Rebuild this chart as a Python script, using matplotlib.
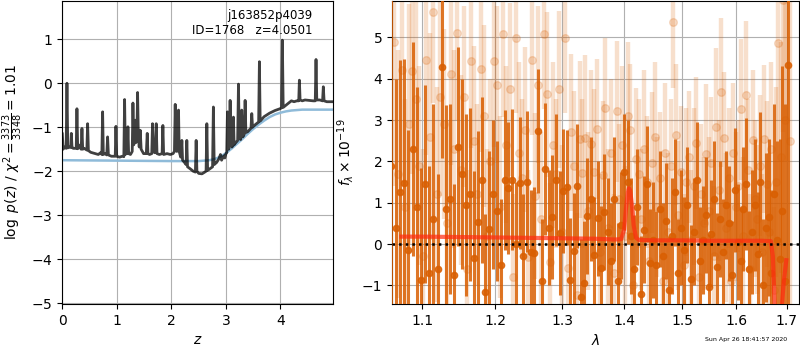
import numpy as np
import matplotlib
matplotlib.use("Agg")
import matplotlib.pyplot as plt
from matplotlib.ticker import NullLocator, NullFormatter

# redshift fit: log p(z) curve and smooth prior
pz_z = [0.00, 0.015, 0.04, 0.07, 0.085, 0.10, 0.13, 0.155, 0.165, 0.178, 0.20, 0.255, 0.268, 0.282,
        0.30, 0.345, 0.36, 0.374, 0.40, 0.45, 0.464, 0.478, 0.52, 0.60, 0.66, 0.70, 0.725, 0.739,
        0.752, 0.78, 0.815, 0.83, 0.845, 0.90, 0.97, 0.983, 0.997, 1.05, 1.10, 1.128, 1.142, 1.156,
        1.175, 1.19, 1.203, 1.216, 1.25, 1.282, 1.295, 1.31, 1.325, 1.337, 1.35, 1.367, 1.38, 1.394,
        1.41, 1.429, 1.445, 1.49, 1.54, 1.557, 1.57, 1.60, 1.64, 1.654, 1.668, 1.695, 1.708, 1.722,
        1.736, 1.78, 1.83, 1.844, 1.858, 1.92, 1.98, 2.03, 2.056, 2.07, 2.084, 2.10, 2.12, 2.131,
        2.143, 2.17, 2.18, 2.192, 2.205, 2.24, 2.27, 2.283, 2.296, 2.35, 2.40, 2.44, 2.454, 2.468,
        2.50, 2.56, 2.60, 2.636, 2.65, 2.664, 2.70, 2.755, 2.77, 2.785, 2.83, 2.87, 2.90, 2.92,
        2.96, 2.98, 3.00, 3.015, 3.028, 3.04, 3.052, 3.065, 3.077, 3.09, 3.11, 3.126, 3.138, 3.15,
        3.18, 3.215, 3.23, 3.245, 3.27, 3.29, 3.31, 3.338, 3.352, 3.366, 3.40, 3.46, 3.474, 3.488,
        3.54, 3.60, 3.614, 3.628, 3.70, 3.80, 3.90, 3.99, 4.02, 4.035, 4.05, 4.10, 4.15, 4.20,
        4.25, 4.30, 4.335, 4.347, 4.36, 4.40, 4.45, 4.52, 4.60, 4.638, 4.652, 4.666, 4.72, 4.772,
        4.786, 4.80, 4.85, 4.95]
pz_logp = [-1.15, -1.50, -1.45, -1.48, 0.00, -1.47, -1.45, -1.46, -1.14, -1.46, -1.48, -1.48, -0.58, -1.49,
           -1.40, -1.50, -1.03, -1.50, -1.48, -1.52, -0.92, -1.53, -1.57, -1.60, -1.62, -1.58, -1.62, -0.65,
           -1.62, -1.60, -1.63, -1.22, -1.63, -1.66, -1.66, -0.98, -1.66, -1.68, -1.66, -1.67, -0.37, -1.62,
           -1.50, -1.60, -0.99, -1.60, -1.62, -1.55, -0.45, -1.40, -1.30, -0.84, -1.35, -1.20, -0.21, -1.20,
           -1.45, -1.07, -1.50, -1.60, -1.60, -1.14, -1.60, -1.62, -1.60, -0.92, -1.55, -1.58, -1.40, -0.92,
           -1.60, -1.62, -1.60, -0.96, -1.62, -1.60, -1.62, -1.60, -1.55, -0.48, -1.50, -1.55, -1.45, -0.61,
           -1.55, -1.68, -1.60, -1.30, -1.75, -1.80, -1.85, -1.30, -1.90, -1.95, -2.00, -2.02, -1.30, -2.00,
           -2.05, -2.06, -2.03, -2.00, -0.92, -1.98, -1.95, -1.90, -0.54, -1.85, -1.80, -1.72, -1.62, -1.75,
           -1.65, -1.70, -1.60, -1.58, -0.65, -1.40, -1.50, -1.40, -0.39, -1.40, -1.45, -1.42, -0.77, -1.40,
           -1.35, -1.30, -0.02, -1.25, -1.28, -0.61, -1.22, -1.15, -0.39, -1.12, -1.10, -1.02, -0.69, -1.00,
           -0.94, -0.88, 0.49, -0.86, -0.76, -0.68, -0.62, -0.58, -0.56, 0.98, -0.55, -0.50, -0.45, -0.40,
           -0.42, -0.40, -0.40, 0.07, -0.38, -0.40, -0.38, -0.39, -0.40, -0.40, 0.54, -0.38, -0.38, -0.40,
           -0.08, -0.40, -0.42, -0.42]

prior_z = [0.0, 1.0, 2.0, 2.5, 2.7, 2.8, 2.9, 3.0, 3.1, 3.2, 3.3, 3.4, 3.5, 3.6, 3.7, 3.8,
           3.9, 4.0, 4.1, 4.2, 4.4, 4.6, 4.95]
prior_logp = [-1.75, -1.76, -1.77, -1.77, -1.75, -1.72, -1.67, -1.59, -1.49, -1.38, -1.27, -1.15,
              -1.04, -0.94, -0.85, -0.77, -0.71, -0.67, -0.64, -0.62, -0.60, -0.60, -0.60]

# 1D spectrum (flux in units of 1e-19), combined
flux_a = [1.9, 0.4, 1.25, 1.48, -0.15, 2.3, 0.9, -0.87, 1.45, -0.71, 0.6, -0.6, 4.29, 0.86, 1.1, -0.75,
          2.36, 1.69, 0.95, 1.2, -0.33, 0.54, 1.55, -1.17,
          0.36, 1.2, 0.8, -0.5, 1.55, 1.36, 1.56, 0.0, 1.47, -0.3, 1.51, -0.2, -0.22, 2.74, -0.9, 1.82,
          0.4, 0.66, 1.55, 0.26, 1.29, 1.37, -0.86, -0.16,
          1.4, -1.28, -0.95, 0.68, 1.09, -0.27, 0.62, -0.57, 0.77, 0.3, -0.4, 1.1, -0.9, 0.45, 1.75, 1.5,
          0.2, -0.6, 0.9, -1.2, 0.35, 1.45, -0.45, 0.1,
          -0.5, 0.85, -0.3, 0.55, -1.1, 0.2, 1.25, -0.7, 0.4, -0.15, 0.95, -0.85, 0.3, 1.55, -0.4, 0.1,
          0.7, -1.05, 0.25, 1.1, -0.55, 0.6, -0.2, 0.95,
          0.5, -0.75, 1.3, 0.05, -0.4, 0.85, 1.45, -0.6, 0.3, 0.95, -0.25, 1.5, -1.0, 0.4, 0.65, -0.7,
          1.2, 0.1, -0.35, 0.8, -0.9, 4.33]
err_a = [6.0, 3.6, 3.2, 3.0, 2.9, 2.6, 2.9, 2.7, 2.4, 2.6, 2.8, 2.3, 2.2, 2.5, 2.3, 2.2,
         2.4, 2.3, 2.2, 2.1, 2.1, 2.2, 2.0, 1.9,
         1.9, 1.8, 1.7, 1.6, 1.7, 1.6, 1.7, 1.5, 1.6, 1.5, 1.7, 1.5, 1.6, 1.5, 1.5, 1.6,
         1.4, 1.5, 1.6, 1.5, 1.5, 1.4, 1.5, 1.4,
         1.5, 1.4, 1.5, 1.4, 1.5, 1.4, 1.4, 1.5, 1.4, 1.3, 1.4, 1.5, 1.4, 1.3, 1.4, 1.5,
         1.4, 1.3, 1.4, 1.4, 1.3, 1.4, 1.3, 1.4,
         1.3, 1.4, 1.3, 1.4, 1.3, 1.4, 1.3, 1.3, 1.4, 1.3, 1.4, 1.3, 1.3, 1.4, 1.3, 1.3,
         1.4, 1.3, 1.3, 1.4, 1.3, 1.4, 1.3, 1.3,
         1.4, 1.3, 1.5, 1.4, 1.3, 1.5, 1.6, 1.4, 1.5, 1.6, 1.5, 1.7, 1.6, 1.8, 1.9, 2.0,
         2.2, 2.4, 2.9, 3.5, 4.3, 6.0]
lam_a = np.linspace(1.060, 1.702, len(flux_a))

# individual beams
flux_b = [4.9, 1.7, 4.2, 0.9, 2.9, 4.19, 3.5, 1.9, -0.3, 4.45, 2.6, 5.61, 1.2, 3.57, 2.9, 0.5,
          4.12, 2.3, 5.1, 1.8, 3.57, -0.6, 4.43, 2.5, 1.2, 4.23, 3.1, 0.2,
          2.0, 4.44, 3.86, 0.9, 5.07, 2.4, 3.74, -0.8, 4.98, 2.2, 1.6, 2.77, -0.32, 4.45, 1.16, 3.86,
          0.6, 5.07, 3.62, -0.43, 2.4, 1.7, 3.74, 0.3, 4.98, -0.59, 2.7, 1.9, -1.24, 2.53, 1.71, 2.57,
          0.8, 2.41, 1.75, 2.78, -0.2, 1.67, 3.28, 0.4,
          2.2, -0.7, 3.21, 1.1, 2.4, 0.2, 3.1, 2.75, -1.0, 2.07, 1.7, 0.6, 2.3, 1.5, -0.4, 1.97,
          2.6, 0.9, 1.6, -0.9, 2.2, 0.3, 1.9, 5.37, 2.65, 0.7, 1.75, -0.5, 1.5, 2.1, 0.1, 1.4,
          2.45, -0.8, 1.2, 0.5,
          2.17, 0.8, 1.95, -0.3, 2.84, 1.3, 3.67, 2.57, 0.4, 1.6, -0.9, 2.2, 0.9, 1.4, 3.26, 0.2,
          3.6, 1.8, -0.6, 2.52, 1.1, 0.6, 1.9, -0.2, 2.54, 1.45, 0.3, 2.3, -1.1, 1.5, 4.86, 2.1,
          5.9, 3.0, 6.5, 2.5]
err_b = [3.5, 3.0, 2.8, 2.6, 2.9, 2.5, 2.7, 2.4, 2.6, 2.3, 2.5, 2.2, 2.6, 2.4, 2.3, 2.5,
         2.2, 2.4, 2.1, 2.3, 2.2, 2.4, 2.1, 2.3, 2.2, 2.0, 2.2, 2.1,
         2.0, 2.1, 1.9, 2.2, 2.0, 1.9, 2.1, 2.0, 1.8, 2.2, 1.9, 2.0, 2.1, 1.8, 2.0, 1.9,
         2.1, 1.8, 2.0, 1.9, 2.0, 1.8, 1.9, 2.1, 1.8, 2.0, 1.9, 1.8, 2.0, 1.9, 1.8, 2.0,
         1.9, 1.8, 2.0, 1.7, 1.9, 1.8, 1.7, 1.9,
         1.8, 1.9, 1.7, 1.8, 1.9, 1.7, 1.8, 1.6, 1.9, 1.7, 1.8, 1.7, 1.9, 1.6, 1.8, 1.7,
         1.8, 1.7, 1.6, 1.8, 1.7, 1.9, 1.6, 1.6, 1.7, 1.8, 1.6, 1.7, 1.8, 1.6, 1.7, 1.9,
         1.6, 1.8, 1.7, 1.6,
         1.7, 1.8, 1.6, 1.7, 1.9, 1.7, 1.8, 1.6, 1.8, 1.7, 1.9, 1.7, 1.8, 1.6, 1.7, 1.9,
         1.8, 1.7, 1.8, 1.7, 1.9, 1.8, 1.7, 1.9, 1.8, 2.0, 1.9, 2.1, 2.0, 2.3, 2.4, 2.8,
         3.2, 3.8, 4.5, 5.5]
lam_b = np.linspace(1.064, 1.706, len(flux_b))

# best-fit model at z=4.05
model_lam = [1.073, 1.10, 1.15, 1.20, 1.25, 1.30, 1.35, 1.385, 1.395, 1.400, 1.403, 1.406, 1.408,
             1.410, 1.413, 1.416, 1.420, 1.425, 1.45, 1.50, 1.55, 1.60, 1.65, 1.668, 1.672, 1.676,
             1.680, 1.685, 1.690, 1.694, 1.699]
model_flux = [0.18, 0.18, 0.17, 0.16, 0.15, 0.14, 0.13, 0.11, 0.12, 0.35, 0.85, 1.25, 1.35,
              1.30, 0.95, 0.45, 0.15, 0.10, 0.09, 0.09, 0.08, 0.08, 0.08, 0.07, -0.30, -1.60,
              -2.50, -2.50, -1.50, -0.90, -0.39]

root = 'j163852p4039'
obj_id = 1768
z_best = 4.0501
chi2_num, chi2_den = 3373, 3348
stamp = 'Sun Apr 26 18:41:57 2020'

orange = '#d95f02'

fig = plt.figure(figsize=(8, 3.5), dpi=100)
ax1 = fig.add_axes([0.0779, 0.1314, 0.3388, 0.8657])
ax2 = fig.add_axes([0.49, 0.1314, 0.50875, 0.8657])

ax1.plot(prior_z, prior_logp, color='#8fbbd9', lw=1.8)
ax1.plot(pz_z, pz_logp, color='k', alpha=0.75, lw=2)
ax1.set_xlim(0, 4.97)
ax1.set_ylim(-5.02, 1.87)
ax1.set_xticks([0, 1, 2, 3, 4])
ax1.set_yticks([-5, -4, -3, -2, -1, 0, 1])
ax1.set_yticklabels(['$-5$', '$-4$', '$-3$', '$-2$', '$-1$', '$0$', '$1$'])
ax1.grid()
ax1.set_xlabel(r'$z$')
ax1.set_ylabel(r'$\log\ p(z)$ / $\chi^2=\frac{%d}{%d}=%.2f$' % (chi2_num, chi2_den, chi2_num / chi2_den))
ax1.text(0.924, 0.975, '%s\nID=%d   z=%.4f' % (root, obj_id, z_best), transform=ax1.transAxes,
         ha='right', va='top', fontsize=8.5)

ax2.errorbar(lam_b, flux_b, err_b, color=orange, alpha=0.2, marker='o', ms=5.5, ls='none',
             elinewidth=3.2, zorder=2)
ax2.errorbar(lam_a, flux_a, err_a, color=orange, alpha=0.85, marker='o', ms=4.5, ls='none',
             elinewidth=2.2, zorder=3)
ax2.plot(model_lam, model_flux, color='#ff2a10', alpha=0.7, lw=3, zorder=4)
ax2.axhline(0, color='k', ls=':', lw=1.8, zorder=5)
ax2.set_xscale('log')
ax2.set_xlim(1.061, 1.725)
ax2.set_ylim(-1.45, 5.88)
ax2.set_xticks([1.1, 1.2, 1.3, 1.4, 1.5, 1.6, 1.7])
ax2.set_xticklabels(['1.1', '1.2', '1.3', '1.4', '1.5', '1.6', '1.7'])
ax2.xaxis.set_minor_locator(NullLocator())
ax2.xaxis.set_minor_formatter(NullFormatter())
ax2.set_yticks([-1, 0, 1, 2, 3, 4, 5])
ax2.grid()
ax2.set_xlabel(r'$\lambda$')
ax2.set_ylabel(r'$f_\lambda\times10^{-19}$')

fig.text(0.984, 0.031, stamp, ha='right', va='center', fontsize=4.5)

fig.savefig('out.png', dpi=100)
